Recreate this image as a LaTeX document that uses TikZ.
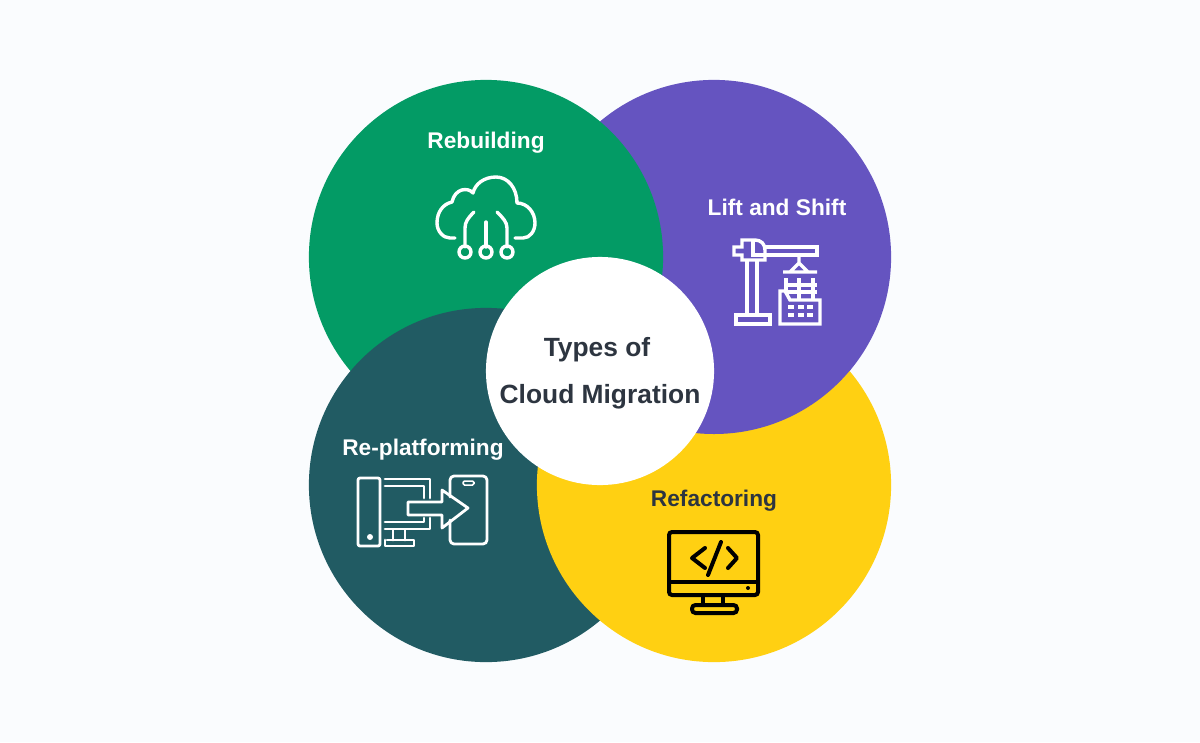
\documentclass[tikz,border=0pt]{standalone}
\usepackage{fontspec}
\setmainfont{Liberation Sans}
\usetikzlibrary{positioning}
\definecolor{pagebg}{HTML}{FAFCFE}
\definecolor{rebuildgreen}{HTML}{039B65}
\definecolor{liftpurple}{HTML}{6554C0}
\definecolor{platformteal}{HTML}{215B63}
\definecolor{refactoryellow}{HTML}{FFD012}
\definecolor{inktext}{HTML}{2D3540}
\tikzset{
	petal/.style={circle,minimum size=3.54cm,inner sep=0pt,outer sep=0pt},
	hub/.style={circle,fill=white,minimum size=2.28cm,inner sep=0pt,outer sep=0pt},
	steplabel/.style={font=\fontsize{6.45}{8}\selectfont\bfseries,text=white,inner sep=0pt},
	hublabel/.style={font=\fontsize{7.5}{9}\selectfont\bfseries,text=inktext,inner sep=0pt},
	iconline/.style={line width=0.034cm,line join=round,line cap=round},
}
\begin{document}
\begin{tikzpicture}[x=0.01cm,y=-0.01cm]
		\fill[pagebg] (0,0) rectangle (1200,742);
		\useasboundingbox (0,0) rectangle (1200,742);
		% the four circles, each one lies over its neighbour
		\node[petal,fill=liftpurple] (lift) at (714,257) {};
		\node[petal,fill=rebuildgreen] (rebuild) at (486,257) {};
		\node[petal,fill=platformteal] (platform) at (486,485) {};
		\node[petal,fill=refactoryellow] (refactor) at (714,485) {};
		\begin{scope}
		\clip (714,485) circle (179);
		\fill[liftpurple] (714,257) circle (177);
		\end{scope}
		\node[hub] (centre) at (600,371) {};
		\node[hublabel] (types) at (597,350) {Types of};
		\node[hublabel] (cloud) at (600,397) {Cloud Migration};
		\node[steplabel] (rebuildtext) at (486,143) {Rebuilding};
		\node[steplabel] (lifttext) at (777,207) {Lift and Shift};
		\node[steplabel] (platformtext) at (423,450) {Re-platforming};
		\node[steplabel,text=inktext] (refactortext) at (714,501) {Refactoring};
		% cloud
		\draw[iconline,white] (515,238) -- (523,238) .. controls (530,238) and (535,231) .. (535,223) .. controls (535,212) and (527,203) .. (517,203) .. controls (517,188) and (508,177) .. (496,177) .. controls (484,177) and (475,184) .. (473,193) .. controls (468,187) and (455,188) .. (452,202) .. controls (443,204) and (437,212) .. (437,223) .. controls (437,231) and (443,238) .. (450,238) -- (455,238);
		\draw[iconline,white] (486,222) -- (486,247);
		\draw[iconline,white] (474,212) .. controls (468,218) and (465,222) .. (465,228) -- (465,247);
		\draw[iconline,white] (497,212) .. controls (503,218) and (507,222) .. (507,228) -- (507,247);
		\foreach \x in {465,486,507} \draw[iconline,white] (\x,252) circle (6);
		% crane
		\draw[iconline,white,line cap=butt,line join=miter] (742,240) -- (755,240) .. controls (761,240) and (765,244) .. (765,250) -- (765,260) -- (742,260) -- (742,255) -- (734,255) -- (734,247) -- (742,247) -- cycle;
		\draw[iconline,white,line cap=butt,line join=miter] (753,240) -- (753,255) -- (765,255);
		\draw[iconline,white,line cap=butt,line join=miter] (765,247) -- (817,247) -- (817,255) -- (765,255);
		\draw[iconline,white,line cap=butt] (747,260) -- (747,315) (757,260) -- (757,315);
		\draw[iconline,white,line cap=butt,line join=miter] (747,315) -- (758,315) (736,315) rectangle (770,324);
		\draw[iconline,white,line cap=butt,line join=miter] (799,255) -- (799,263) (790,272) -- (799,263) -- (808,272) (783,272) -- (817,272);
		\draw[iconline,white,line cap=butt] (786,278) -- (786,293) (799,278) -- (799,300) (813,278) -- (813,300) (786,285) -- (817,285) (786,292) -- (817,292);
		\draw[iconline,white,line cap=butt,line join=miter] (780,291) -- (780,324) -- (820,324) -- (820,300) -- (790,300) -- (785,291) -- cycle;
		\foreach \y in {307,315} \foreach \x in {788,798,807} \draw[iconline,white,line cap=butt] (\x,\y) -- ++(6,0);
		% computer to phone
		\draw[iconline,white,line width=0.028cm,rounded corners=0.02cm] (358,478) rectangle (380,546);
		\fill[white] (370,537) circle (3);
		\draw[iconline,white,line width=0.028cm] (385,479) -- (430,479) -- (430,498) (385,486) -- (424,486) -- (424,498);
		\draw[iconline,white,line width=0.028cm] (385,522) -- (424,522) -- (424,518) (385,529) -- (430,529) -- (430,518);
		\draw[iconline,white,line width=0.028cm] (393,530) -- (393,540) (405,530) -- (405,540) (387,540) -- (414,540) -- (414,546) -- (385,546) -- (385,540);
		\draw[iconline,white,line width=0.028cm] (408,502) -- (442,502) -- (442,490) -- (468,508) -- (442,528) -- (442,515) -- (408,515) -- cycle;
		\draw[iconline,white,line width=0.028cm,rounded corners=0.04cm] (450,497) -- (450,476) -- (487,476) -- (487,544) -- (450,544) -- (450,520);
		\draw[white,line width=0.015cm,rounded corners=0.015cm] (463,481) rectangle (474,485);
		% monitor
		\draw[line width=0.04cm,black,rounded corners=0.03cm] (669,532) rectangle (758,595);
		\draw[line width=0.04cm,black] (669,582) -- (758,582);
		\fill[black] (748,588) circle (2);
		\draw[line width=0.04cm,black] (703,595) -- (703,605) (723,595) -- (723,605);
		\draw[line width=0.04cm,black,rounded corners=0.035cm] (692,605) rectangle (737,613);
		\draw[line width=0.04cm,black,line cap=round,line join=round] (705,548) -- (692,558) -- (705,568) (721,542) -- (708,575) (728,548) -- (737,558) -- (728,568);
\end{tikzpicture}
\end{document}
